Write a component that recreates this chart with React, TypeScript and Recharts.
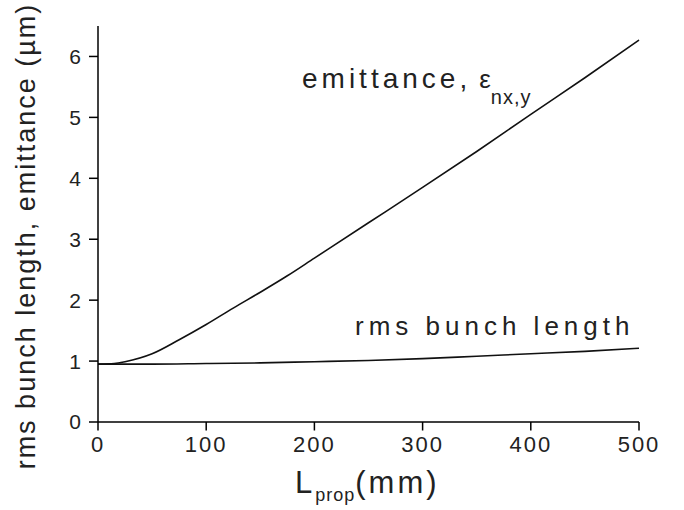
import React from 'react';
import { LineChart, Line, XAxis, YAxis } from 'recharts';

const emitX = [0, 15, 25, 50, 75, 100, 125, 150, 175, 200, 250, 300, 350, 400, 450, 500];
const emitY = [0.95, 0.96, 0.99, 1.12, 1.35, 1.6, 1.87, 2.13, 2.4, 2.69, 3.27, 3.85, 4.44, 5.05, 5.65, 6.27];

const bunchX = [0, 50, 100, 150, 200, 250, 300, 350, 400, 450, 500];
const bunchY = [0.95, 0.95, 0.96, 0.97, 0.99, 1.01, 1.04, 1.08, 1.12, 1.16, 1.21];

const xMajor = [0, 100, 200, 300, 400, 500];
const xMinor = [50, 150, 250, 350, 450];
const yMajor = [0, 1, 2, 3, 4, 5, 6];
const yMinor = [0.5, 1.5, 2.5, 3.5, 4.5, 5.5, 6.5];

const emitData = emitX.map((x, i) => ({ L: x, v: emitY[i] }));
const bunchData = bunchX.map((x, i) => ({ L: x, v: bunchY[i] }));

const FONT = '"Liberation Sans", Arial, Helvetica, sans-serif';
const tickLineStyle = { stroke: '#000', strokeWidth: 1.5 };

export default function App() {
  return (
    <div style={{ position: 'absolute', left: 0, top: 0, width: 684, height: 510, background: '#fff' }}>
      <LineChart width={684} height={510} margin={{ top: 26, right: 45, left: 0, bottom: 0 }}>
        {/* minor ticks sit on their own zero-size axes */}
        <XAxis
          xAxisId="minor"
          dataKey="L"
          type="number"
          domain={[0, 500]}
          ticks={xMinor}
          height={0}
          tickSize={4.5}
          axisLine={false}
          tickLine={tickLineStyle}
          tick={false}
          interval={0}
        />
        <XAxis
          xAxisId="major"
          dataKey="L"
          type="number"
          domain={[0, 500]}
          ticks={xMajor}
          height={88}
          tickSize={8.5}
          tickMargin={6}
          axisLine={{ stroke: '#000', strokeWidth: 1.5 }}
          tickLine={tickLineStyle}
          tick={{ fontSize: 22, fontFamily: FONT, fill: '#222', letterSpacing: 2 }}
          interval={0}
        />
        <YAxis
          yAxisId="minor"
          type="number"
          domain={[0, 6.5]}
          ticks={yMinor}
          width={0}
          tickSize={4.5}
          axisLine={false}
          tickLine={tickLineStyle}
          tick={false}
          interval={0}
        />
        <YAxis
          yAxisId="major"
          type="number"
          domain={[0, 6.5]}
          ticks={yMajor}
          width={98}
          tickSize={9}
          tickMargin={7}
          axisLine={{ stroke: '#000', strokeWidth: 1.5 }}
          tickLine={tickLineStyle}
          tick={{ fontSize: 21, fontFamily: FONT, fill: '#222', letterSpacing: 1 }}
          interval={0}
        />
        <Line xAxisId="major" yAxisId="major" data={emitData} dataKey="v" type="monotone" stroke="#111" strokeWidth={1.6} dot={false} isAnimationActive={false} />
        <Line xAxisId="major" yAxisId="major" data={bunchData} dataKey="v" type="monotone" stroke="#111" strokeWidth={1.6} dot={false} isAnimationActive={false} />

        <text x={35} y={236} transform="rotate(-90 35 236)" textAnchor="middle" fontSize={27} fontFamily={FONT} fill="#222" letterSpacing={2}>
          rms bunch length, emittance (µm)
        </text>
        <text x={295} y={493} fontSize={31} fontFamily={FONT} fill="#222" letterSpacing={3}>
          L
          <tspan fontSize={18} dy={8} letterSpacing={1}>prop</tspan>
          <tspan dy={-8}>(mm)</tspan>
        </text>
        <text x={302} y={88} fontSize={28} fontFamily={FONT} fill="#222" letterSpacing={4}>
          emittance,
          <tspan dx={8} fontSize={26} letterSpacing={0}>ε</tspan>
          <tspan fontSize={20} dy={16} letterSpacing={1}>nx,y</tspan>
        </text>
        <text x={355} y={335} fontSize={26} fontFamily={FONT} fill="#222" letterSpacing={5}>
          rms bunch length
        </text>
      </LineChart>
    </div>
  );
}
